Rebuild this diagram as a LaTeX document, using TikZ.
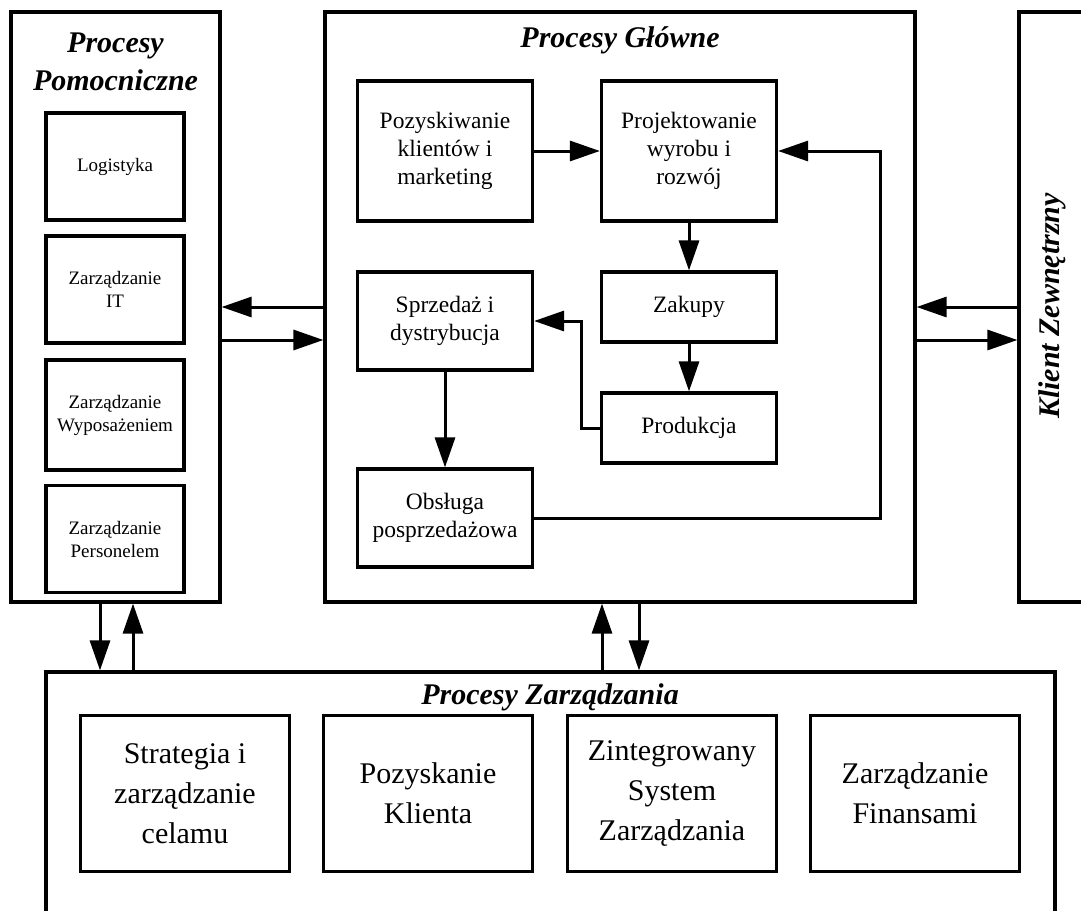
\documentclass[tikz,border=0pt]{standalone}
\usepackage{fontspec}
\setmainfont{Liberation Serif}
\usetikzlibrary{arrows.meta}

\tikzset{
    bigbox/.style={draw, line width=3.2pt, rectangle, inner sep=0pt},
    smallbox/.style={draw, line width=3.2pt, rectangle, inner sep=0pt, align=center,
        font=\fontsize{19}{23}\selectfont, minimum width=138pt, minimum height=107pt},
    mainbox/.style={draw, line width=3.2pt, rectangle, inner sep=0pt, align=center,
        font=\fontsize{23.5}{28}\selectfont, minimum width=175pt},
    mgmtbox/.style={draw, line width=3.2pt, rectangle, inner sep=0pt, align=center,
        font=\fontsize{30}{40}\selectfont, minimum width=209pt, minimum height=156pt},
    title/.style={align=center, font=\fontsize{30}{38}\selectfont\bfseries\itshape},
    arr/.style={line width=3pt, -{Triangle[length=30pt, width=20pt]}}
}

\begin{document}
\begin{tikzpicture}[x=1pt, y=-1pt]
        \clip (0,0) rectangle (1081,910);
        \fill[white] (0,0) rectangle (1081,910);

        % Draw outer boxes
        \node[bigbox, minimum width=209pt, minimum height=590pt] (pom) at (115.5,307) {};
        \node[bigbox, minimum width=590pt, minimum height=590pt] (glowne) at (620,307) {};
        \node[bigbox, minimum width=90pt, minimum height=590pt] (klient) at (1064,307) {};
        \node[bigbox, minimum width=1009pt, minimum height=290pt] (zarz) at (550.5,817) {};

        % Titles
        \node[title] at (115.5,62) {Procesy\\Pomocniczne};
        \node[title] at (620,40) {Procesy Główne};
        \node[title, rotate=90] at (1052,306) {Klient Zewnętrzny};
        \node[title] at (550,697) {Procesy Zarządzania};

        % Draw supporting processes
        \node[smallbox] (logi) at (115,166.5) {Logistyka};
        \node[smallbox] (it) at (115,289.5) {Zarządzanie\\IT};
        \node[smallbox, minimum height=110pt] (wyp) at (115,415) {Zarządzanie\\Wyposażeniem};
        \node[smallbox] (pers) at (115,539) {Zarządzanie\\Personelem};

        % Draw main processes
        \node[mainbox, minimum height=140pt] (pozysk) at (445,151) {Pozyskiwanie\\klientów i\\marketing};
        \node[mainbox, minimum height=140pt] (projekt) at (689,151) {Projektowanie\\wyrobu i\\rozwój};
        \node[mainbox, minimum height=98pt] (sprzedaz) at (445,321) {Sprzedaż i\\dystrybucja};
        \node[mainbox, minimum height=70pt] (zakupy) at (689,307) {Zakupy};
        \node[mainbox, minimum height=70pt] (prod) at (689,428) {Produkcja};
        \node[mainbox, minimum height=98pt] (obsl) at (445,518) {Obsługa\\posprzedażowa};

        % Draw management processes
        \node[mgmtbox] (strat) at (185,793.5) {Strategia i\\zarządzanie\\celamu};
        \node[mgmtbox] (pklient) at (428,793.5) {Pozyskanie\\Klienta};
        \node[mgmtbox] (zsz) at (672,793.5) {Zintegrowany\\System\\Zarządzania};
        \node[mgmtbox] (fin) at (915,793.5) {Zarządzanie\\Finansami};

        % Arrows inside main processes
        \coordinate (back) at (880,151);
        \draw[arr] (pozysk) -- (projekt);
        \draw[arr] (projekt) -- (zakupy);
        \draw[arr] (zakupy) -- (prod);
        \draw[arr] (prod.west) -- ++(-18,0) |- (sprzedaz.east);
        \draw[arr] (sprzedaz) -- (obsl);
        \draw[arr] (obsl.east) -| (back) -- (projekt.east);

        % Arrows between outer boxes
        \draw[arr] (glowne.west) -- (pom.east);
        \draw[arr] ([yshift=-33pt]pom.east) -- ([yshift=-33pt]glowne.west);
        \draw[arr] (klient.west) -- (glowne.east);
        \draw[arr] ([yshift=-33pt]glowne.east) -- ([yshift=-33pt]klient.west);
        \draw[arr] ([xshift=-15.5pt]pom.south) -- ([xshift=-15.5pt]pom.south |- zarz.north);
        \draw[arr] ([xshift=17.5pt]pom.south |- zarz.north) -- ([xshift=17.5pt]pom.south);
        \draw[arr] ([xshift=-18pt]glowne.south |- zarz.north) -- ([xshift=-18pt]glowne.south);
        \draw[arr] ([xshift=19pt]glowne.south) -- ([xshift=19pt]glowne.south |- zarz.north);
    \end{tikzpicture}
\end{document}
